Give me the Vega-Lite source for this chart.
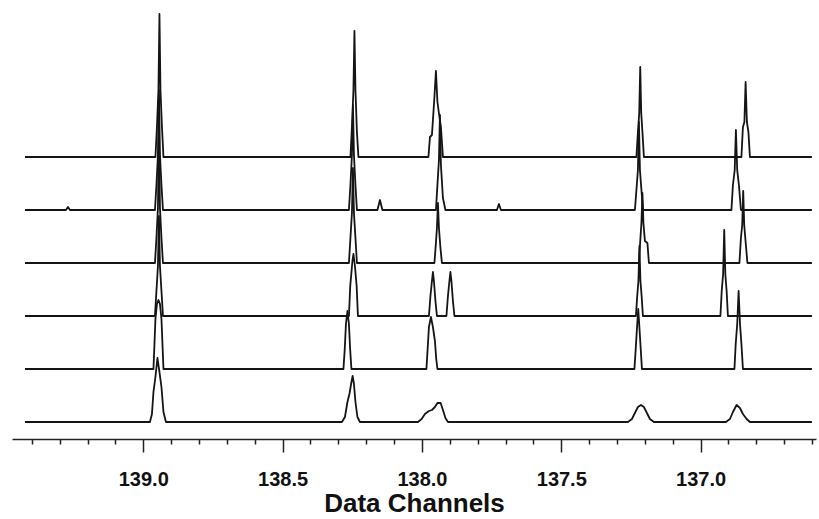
{
  "$schema": "https://vega.github.io/schema/vega-lite/v6.json",
  "background": "white",
  "padding": {"left": 12, "top": 13, "right": 3, "bottom": 5},
  "bounds": "flush",
  "data": {"values": [
    {"t":1,"x":139.4245,"y":0},
    {"t":1,"x":138.9563,"y":0},{"t":1,"x":138.9509,"y":30},{"t":1,"x":138.9455,"y":67},{"t":1,"x":138.9419,"y":143},{"t":1,"x":138.9383,"y":67},{"t":1,"x":138.9329,"y":30},{"t":1,"x":138.9275,"y":0},
    {"t":1,"x":138.2566,"y":0},{"t":1,"x":138.2512,"y":30},{"t":1,"x":138.2458,"y":67},{"t":1,"x":138.2422,"y":126},{"t":1,"x":138.2386,"y":67},{"t":1,"x":138.2333,"y":25},{"t":1,"x":138.2279,"y":0},
    {"t":1,"x":137.9767,"y":0},{"t":1,"x":137.9713,"y":20},{"t":1,"x":137.9641,"y":22},{"t":1,"x":137.9552,"y":60},{"t":1,"x":137.9498,"y":86},{"t":1,"x":137.9444,"y":55},{"t":1,"x":137.9372,"y":40},{"t":1,"x":137.9319,"y":30},{"t":1,"x":137.9247,"y":0},
    {"t":1,"x":137.2304,"y":0},{"t":1,"x":137.2250,"y":25},{"t":1,"x":137.2203,"y":44},{"t":1,"x":137.2167,"y":90},{"t":1,"x":137.2132,"y":44},{"t":1,"x":137.2088,"y":25},{"t":1,"x":137.2035,"y":0},
    {"t":1,"x":136.8536,"y":0},{"t":1,"x":136.8482,"y":30},{"t":1,"x":136.8429,"y":35},{"t":1,"x":136.8386,"y":75},{"t":1,"x":136.8339,"y":35},{"t":1,"x":136.8285,"y":25},{"t":1,"x":136.8231,"y":0},
    {"t":1,"x":136.6007,"y":0},

    {"t":2,"x":139.4245,"y":0},
    {"t":2,"x":139.2774,"y":0},{"t":2,"x":139.2702,"y":3},{"t":2,"x":139.2630,"y":0},
    {"t":2,"x":138.9580,"y":0},{"t":2,"x":138.9527,"y":25},{"t":2,"x":138.9473,"y":55},{"t":2,"x":138.9437,"y":120},{"t":2,"x":138.9401,"y":55},{"t":2,"x":138.9347,"y":25},{"t":2,"x":138.9293,"y":0},
    {"t":2,"x":138.2620,"y":0},{"t":2,"x":138.2566,"y":25},{"t":2,"x":138.2512,"y":55},{"t":2,"x":138.2476,"y":105},{"t":2,"x":138.2440,"y":55},{"t":2,"x":138.2386,"y":25},{"t":2,"x":138.2333,"y":0},
    {"t":2,"x":138.1597,"y":0},{"t":2,"x":138.1507,"y":10},{"t":2,"x":138.1418,"y":0},
    {"t":2,"x":137.9498,"y":0},{"t":2,"x":137.9444,"y":25},{"t":2,"x":137.9390,"y":50},{"t":2,"x":137.9354,"y":95},{"t":2,"x":137.9319,"y":45},{"t":2,"x":137.9247,"y":12},{"t":2,"x":137.9157,"y":0},
    {"t":2,"x":137.7309,"y":0},{"t":2,"x":137.7237,"y":6},{"t":2,"x":137.7166,"y":0},
    {"t":2,"x":137.2358,"y":0},{"t":2,"x":137.2304,"y":20},{"t":2,"x":137.2250,"y":40},{"t":2,"x":137.2214,"y":88},{"t":2,"x":137.2178,"y":40},{"t":2,"x":137.2124,"y":20},{"t":2,"x":137.2071,"y":0},
    {"t":2,"x":136.8895,"y":0},{"t":2,"x":136.8841,"y":25},{"t":2,"x":136.8777,"y":40},{"t":2,"x":136.8734,"y":80},{"t":2,"x":136.8687,"y":40},{"t":2,"x":136.8626,"y":25},{"t":2,"x":136.8554,"y":0},
    {"t":2,"x":136.6007,"y":0},

    {"t":3,"x":139.4245,"y":0},
    {"t":3,"x":138.9580,"y":0},{"t":3,"x":138.9527,"y":25},{"t":3,"x":138.9473,"y":55},{"t":3,"x":138.9437,"y":135},{"t":3,"x":138.9401,"y":55},{"t":3,"x":138.9347,"y":25},{"t":3,"x":138.9293,"y":0},
    {"t":3,"x":138.2620,"y":0},{"t":3,"x":138.2566,"y":25},{"t":3,"x":138.2512,"y":50},{"t":3,"x":138.2476,"y":95},{"t":3,"x":138.2440,"y":50},{"t":3,"x":138.2386,"y":25},{"t":3,"x":138.2333,"y":0},
    {"t":3,"x":137.9552,"y":0},{"t":3,"x":137.9498,"y":20},{"t":3,"x":137.9462,"y":35},{"t":3,"x":137.9426,"y":60},{"t":3,"x":137.9390,"y":35},{"t":3,"x":137.9336,"y":15},{"t":3,"x":137.9283,"y":0},
    {"t":3,"x":137.2214,"y":0},{"t":3,"x":137.2160,"y":25},{"t":3,"x":137.2124,"y":40},{"t":3,"x":137.2088,"y":70},{"t":3,"x":137.2053,"y":40},{"t":3,"x":137.1999,"y":22},{"t":3,"x":137.1909,"y":20},{"t":3,"x":137.1855,"y":0},
    {"t":3,"x":136.8608,"y":0},{"t":3,"x":136.8554,"y":25},{"t":3,"x":136.8508,"y":38},{"t":3,"x":136.8472,"y":72},{"t":3,"x":136.8436,"y":38},{"t":3,"x":136.8382,"y":20},{"t":3,"x":136.8321,"y":0},
    {"t":3,"x":136.6007,"y":0},

    {"t":4,"x":139.4245,"y":0},
    {"t":4,"x":138.9580,"y":0},{"t":4,"x":138.9527,"y":25},{"t":4,"x":138.9473,"y":50},{"t":4,"x":138.9437,"y":100},{"t":4,"x":138.9401,"y":50},{"t":4,"x":138.9347,"y":25},{"t":4,"x":138.9293,"y":0},
    {"t":4,"x":138.2620,"y":0},{"t":4,"x":138.2573,"y":30},{"t":4,"x":138.2494,"y":55},{"t":4,"x":138.2458,"y":62},{"t":4,"x":138.2404,"y":50},{"t":4,"x":138.2343,"y":30},{"t":4,"x":138.2297,"y":0},
    {"t":4,"x":137.9749,"y":0},{"t":4,"x":137.9695,"y":20},{"t":4,"x":137.9641,"y":35},{"t":4,"x":137.9606,"y":44},{"t":4,"x":137.9570,"y":35},{"t":4,"x":137.9516,"y":15},{"t":4,"x":137.9462,"y":0},
    {"t":4,"x":137.9121,"y":0},{"t":4,"x":137.9067,"y":20},{"t":4,"x":137.9014,"y":35},{"t":4,"x":137.8978,"y":44},{"t":4,"x":137.8942,"y":35},{"t":4,"x":137.8888,"y":15},{"t":4,"x":137.8834,"y":0},
    {"t":4,"x":137.2322,"y":0},{"t":4,"x":137.2275,"y":20},{"t":4,"x":137.2232,"y":35},{"t":4,"x":137.2196,"y":70},{"t":4,"x":137.2160,"y":35},{"t":4,"x":137.2117,"y":20},{"t":4,"x":137.2071,"y":0},
    {"t":4,"x":136.9290,"y":0},{"t":4,"x":136.9243,"y":25},{"t":4,"x":136.9193,"y":42},{"t":4,"x":136.9153,"y":86},{"t":4,"x":136.9114,"y":42},{"t":4,"x":136.9067,"y":25},{"t":4,"x":136.9021,"y":0},
    {"t":4,"x":136.6007,"y":0},

    {"t":5,"x":139.4245,"y":0},
    {"t":5,"x":138.9634,"y":0},{"t":5,"x":138.9598,"y":25},{"t":5,"x":138.9563,"y":50},{"t":5,"x":138.9509,"y":65},{"t":5,"x":138.9455,"y":69},{"t":5,"x":138.9401,"y":65},{"t":5,"x":138.9347,"y":50},{"t":5,"x":138.9311,"y":25},{"t":5,"x":138.9275,"y":0},
    {"t":5,"x":138.2817,"y":0},{"t":5,"x":138.2770,"y":20},{"t":5,"x":138.2727,"y":45},{"t":5,"x":138.2673,"y":58},{"t":5,"x":138.2620,"y":45},{"t":5,"x":138.2577,"y":20},{"t":5,"x":138.2530,"y":0},
    {"t":5,"x":137.9839,"y":0},{"t":5,"x":137.9796,"y":20},{"t":5,"x":137.9749,"y":42},{"t":5,"x":137.9677,"y":52},{"t":5,"x":137.9606,"y":42},{"t":5,"x":137.9534,"y":28},{"t":5,"x":137.9487,"y":10},{"t":5,"x":137.9444,"y":0},
    {"t":5,"x":137.2376,"y":0},{"t":5,"x":137.2329,"y":20},{"t":5,"x":137.2286,"y":40},{"t":5,"x":137.2239,"y":60},{"t":5,"x":137.2193,"y":40},{"t":5,"x":137.2149,"y":20},{"t":5,"x":137.2106,"y":0},
    {"t":5,"x":136.8787,"y":0},{"t":5,"x":136.8741,"y":25},{"t":5,"x":136.8687,"y":45},{"t":5,"x":136.8637,"y":78},{"t":5,"x":136.8587,"y":45},{"t":5,"x":136.8536,"y":25},{"t":5,"x":136.8482,"y":0},
    {"t":5,"x":136.6007,"y":0},

    {"t":6,"x":139.4245,"y":0},
    {"t":6,"x":138.9760,"y":0},{"t":6,"x":138.9688,"y":8},{"t":6,"x":138.9634,"y":30},{"t":6,"x":138.9563,"y":45},{"t":6,"x":138.9491,"y":64},{"t":6,"x":138.9419,"y":50},{"t":6,"x":138.9347,"y":35},{"t":6,"x":138.9275,"y":10},{"t":6,"x":138.9186,"y":0},
    {"t":6,"x":138.2871,"y":0},{"t":6,"x":138.2763,"y":5},{"t":6,"x":138.2673,"y":20},{"t":6,"x":138.2602,"y":28},{"t":6,"x":138.2530,"y":40},{"t":6,"x":138.2487,"y":46},{"t":6,"x":138.2440,"y":38},{"t":6,"x":138.2386,"y":20},{"t":6,"x":138.2315,"y":5},{"t":6,"x":138.2225,"y":0},
    {"t":6,"x":138.0144,"y":0},{"t":6,"x":138.0011,"y":3},{"t":6,"x":137.9893,"y":8},{"t":6,"x":137.9749,"y":11},{"t":6,"x":137.9641,"y":12},{"t":6,"x":137.9534,"y":15},{"t":6,"x":137.9444,"y":19},{"t":6,"x":137.9329,"y":19},{"t":6,"x":137.9247,"y":12},{"t":6,"x":137.9157,"y":4},{"t":6,"x":137.9067,"y":0},
    {"t":6,"x":137.2609,"y":0},{"t":6,"x":137.2465,"y":3},{"t":6,"x":137.2358,"y":9},{"t":6,"x":137.2250,"y":15},{"t":6,"x":137.2142,"y":17},{"t":6,"x":137.2035,"y":15},{"t":6,"x":137.1927,"y":9},{"t":6,"x":137.1819,"y":3},{"t":6,"x":137.1676,"y":0},
    {"t":6,"x":136.9092,"y":0},{"t":6,"x":136.8949,"y":3},{"t":6,"x":136.8841,"y":10},{"t":6,"x":136.8709,"y":17},{"t":6,"x":136.8590,"y":14},{"t":6,"x":136.8482,"y":8},{"t":6,"x":136.8350,"y":3},{"t":6,"x":136.8231,"y":0},
    {"t":6,"x":136.6007,"y":0}
  ]},
  "facet": {"row": {"field": "t", "type": "ordinal", "header": {"labels": false, "title": null, "labelPadding": 0, "titlePadding": 0}}},
  "spacing": {"row": 0},
  "spec": {
    "width": 804,
    "height": 53,
    "mark": {"type": "line", "color": "#151515", "strokeWidth": 1.8, "strokeJoin": "round"},
    "encoding": {
      "x": {
        "field": "x", "type": "quantitative",
        "scale": {"domain": [139.471, 136.586], "nice": false, "zero": false},
        "axis": {
          "title": "Data Channels",
          "values": [139.4,139.3,139.2,139.1,139.0,138.9,138.8,138.7,138.6,138.5,138.4,138.3,138.2,138.1,138.0,137.9,137.8,137.7,137.6,137.5,137.4,137.3,137.2,137.1,137.0,136.9,136.8,136.7,136.6],
          "labelExpr": "abs(datum.value*2-round(datum.value*2))<0.001 ? format(datum.value,'.1f') : ''",
          "tickSize": {"condition": {"test": "abs(datum.value*2-round(datum.value*2))<0.001", "value": 13}, "value": 5},
          "tickColor": "#222", "tickWidth": 1.5, "domainColor": "#222", "domainWidth": 1.5,
          "labelFont": "Liberation Sans", "labelFontWeight": "bold", "labelFontSize": 20, "labelColor": "#111", "labelPadding": 17,
          "titleFont": "Liberation Sans", "titleFontWeight": "bold", "titleFontSize": 26, "titleColor": "#111", "titlePadding": 1,
          "grid": false, "labelOverlap": false, "labelFlush": false
        }
      },
      "y": {"field": "y", "type": "quantitative", "scale": {"domain": [-17, 36], "nice": false, "zero": false}, "axis": null}
    }
  },
  "config": {"view": {"stroke": null}}
}
